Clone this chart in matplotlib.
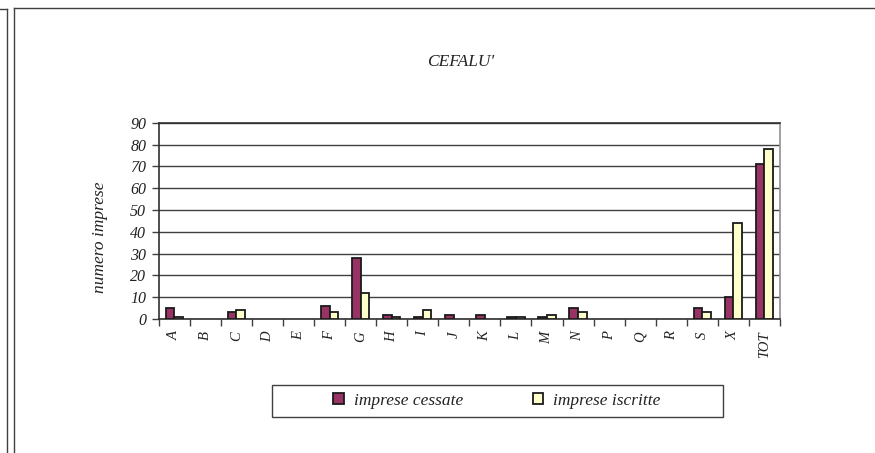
import matplotlib
matplotlib.use("Agg")
import matplotlib.pyplot as plt
from matplotlib.patches import Rectangle, Patch
from matplotlib.lines import Line2D
import numpy as np

categories = ["A", "B", "C", "D", "E", "F", "G", "H", "I", "J", "K", "L",
              "M", "N", "P", "Q", "R", "S", "X", "TOT"]
cessate = [5, 0, 3, 0, 0, 6, 28, 2, 1, 2, 2, 1, 1, 5, 0, 0, 0, 5, 10, 71]
iscritte = [1, 0, 4, 0, 0, 3, 12, 1, 4, 0, 0, 1, 2, 3, 0, 0, 0, 3, 44, 78]
yticks = [0, 10, 20, 30, 40, 50, 60, 70, 80, 90]
title = "CEFALU'"
ylabel = "numero imprese"
series_names = ["imprese cessate", "imprese iscritte"]

plt.rcParams['font.family'] = ['Liberation Serif', 'DejaVu Serif']
plt.rcParams['font.style'] = 'italic'

W, H = 875, 453
fig = plt.figure(figsize=(W / 100, H / 100), dpi=100)

def fx(px):
    return px / W

def fy(py):
    return 1 - py / H

frame_col = '#404040'
text_col = '#222222'
# outer frames
fig.add_artist(Line2D([fx(7), fx(7)], [fy(9), fy(453)], color=frame_col, lw=1))
fig.add_artist(Line2D([fx(0), fx(7)], [fy(9), fy(9)], color=frame_col, lw=1))
fig.add_artist(Line2D([fx(14), fx(14)], [fy(8), fy(453)], color=frame_col, lw=1))
fig.add_artist(Line2D([fx(14), fx(875)], [fy(8), fy(8)], color=frame_col, lw=1))

left, right, top, bottom = 158.7, 780, 122.7, 319
ax = fig.add_axes([fx(left), fy(bottom), fx(right - left), (bottom - top) / H])

x = np.arange(len(categories))
bw = 0.28
c_col = '#993366'
i_col = '#FFFFCC'
c_lw = [1.3 if v > 0 else 0 for v in cessate]
i_lw = [1.3 if v > 0 else 0 for v in iscritte]
ax.bar(x - bw / 2, cessate, bw, color=c_col, edgecolor='#1a1a1a', linewidth=c_lw, zorder=3)
ax.bar(x + bw / 2, iscritte, bw, color=i_col, edgecolor='#1a1a1a', linewidth=i_lw, zorder=3)

ax.set_xlim(-0.5, len(categories) - 0.5)
ax.set_ylim(0, 90)
ax.set_yticks(yticks)
ax.set_yticklabels([str(v) for v in yticks], fontsize=11.5, style='italic', color=text_col)
ax.yaxis.grid(True, color='#404040', linewidth=1, zorder=0)
ax.set_axisbelow(True)

ax.set_xticks(x)
ax.set_xticklabels(categories, rotation=90, fontsize=10.5, style='italic', va='top', color=text_col)
ax.set_xticks(np.arange(-0.5, len(categories), 1.0), minor=True)
ax.tick_params(axis='x', which='major', length=0, pad=9)
ax.tick_params(axis='x', which='minor', length=5, width=1, color='#404040', direction='out')
ax.tick_params(axis='y', which='major', length=5, width=1, color='#404040', direction='out', pad=4)

for s in ['left', 'bottom', 'top']:
    ax.spines[s].set_color('#303030')
    ax.spines[s].set_linewidth(1.2)
ax.spines['right'].set_color('#909090')
ax.spines['right'].set_linewidth(1.2)

fig.text(fx(461), fy(62), title, ha='center', va='center', fontsize=12.5, style='italic', color=text_col)
fig.text(fx(100), fy(237), ylabel, ha='center', va='center', rotation=90, fontsize=12.5,
         style='italic', color=text_col)

# legend frame
fig.add_artist(Rectangle((fx(271.7), fy(416.7)), fx(451), 31.7 / H, transform=fig.transFigure,
                         facecolor='white', edgecolor='#404040', linewidth=1))
handles = [Patch(facecolor=c_col, edgecolor='#1a1a1a', linewidth=1.3),
           Patch(facecolor=i_col, edgecolor='#1a1a1a', linewidth=1.3)]
leg = fig.legend(handles, series_names, loc='center', bbox_to_anchor=(fx(497), fy(401)),
                 ncol=2, frameon=False, handlelength=0.6, handleheight=0.6,
                 handletextpad=0.6, columnspacing=4.0, prop={'style': 'italic', 'size': 12.5})
for t in leg.get_texts():
    t.set_color(text_col)

fig.savefig("out.png", dpi=100)
